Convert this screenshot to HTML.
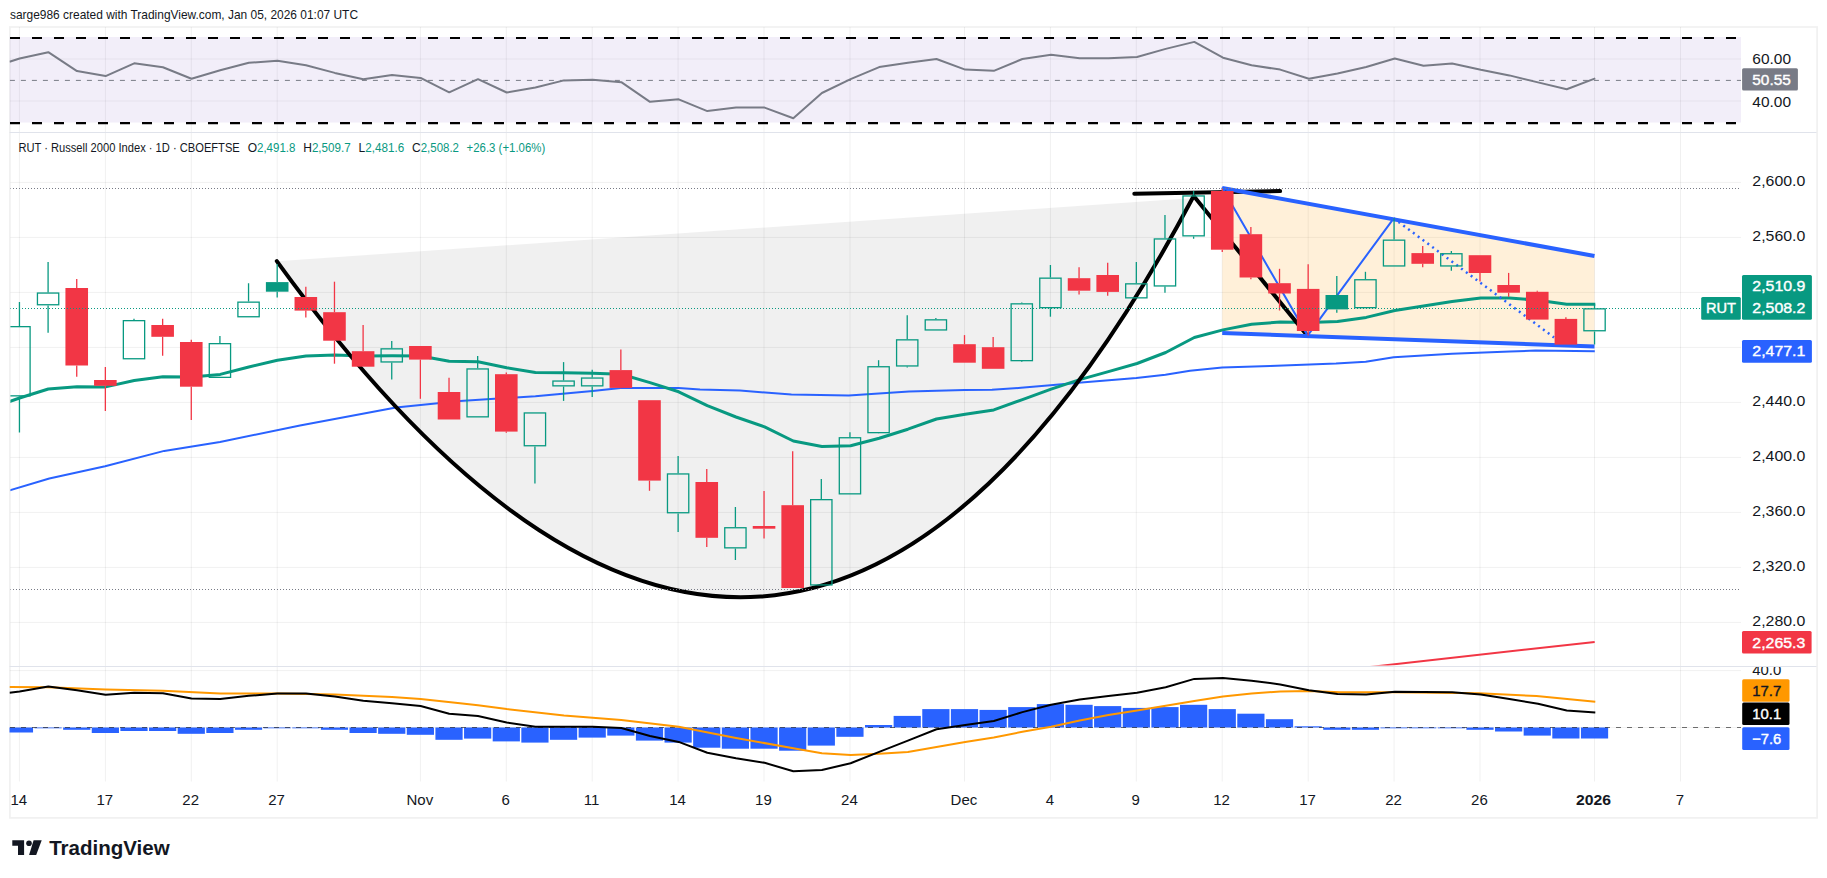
<!DOCTYPE html><html><head><meta charset="utf-8"><style>html,body{margin:0;padding:0;background:#fff;width:1827px;height:878px;overflow:hidden}</style></head><body><svg width="1827" height="878" viewBox="0 0 1827 878" style="display:block">
<rect width="1827" height="878" fill="#ffffff"/>
<defs><clipPath id="cR"><rect x="9.5" y="27" width="1731.5" height="105.5"/></clipPath><clipPath id="cM"><rect x="10.4" y="133.0" width="1731.5" height="532.5"/></clipPath><clipPath id="cD"><rect x="9.5" y="667" width="1731.5" height="115"/></clipPath></defs>
<text x="10" y="19.2" font-family='"Liberation Sans", sans-serif' font-size="13" fill="#131722" textLength="348" lengthAdjust="spacingAndGlyphs">sarge986 created with TradingView.com, Jan 05, 2026 01:07 UTC</text>
<rect x="9.9" y="27.0" width="1807.2" height="790.9" fill="none" stroke="#F1F1F1" stroke-width="1.7"/>
<line x1="19.4" y1="27" x2="19.4" y2="781.5" stroke="rgba(0,0,0,0.06)" stroke-width="1"/>
<line x1="105.4" y1="27" x2="105.4" y2="781.5" stroke="rgba(0,0,0,0.06)" stroke-width="1"/>
<line x1="191.3" y1="27" x2="191.3" y2="781.5" stroke="rgba(0,0,0,0.06)" stroke-width="1"/>
<line x1="277.2" y1="27" x2="277.2" y2="781.5" stroke="rgba(0,0,0,0.06)" stroke-width="1"/>
<line x1="420.4" y1="27" x2="420.4" y2="781.5" stroke="rgba(0,0,0,0.06)" stroke-width="1"/>
<line x1="506.3" y1="27" x2="506.3" y2="781.5" stroke="rgba(0,0,0,0.06)" stroke-width="1"/>
<line x1="592.2" y1="27" x2="592.2" y2="781.5" stroke="rgba(0,0,0,0.06)" stroke-width="1"/>
<line x1="678.1" y1="27" x2="678.1" y2="781.5" stroke="rgba(0,0,0,0.06)" stroke-width="1"/>
<line x1="764.0" y1="27" x2="764.0" y2="781.5" stroke="rgba(0,0,0,0.06)" stroke-width="1"/>
<line x1="850.0" y1="27" x2="850.0" y2="781.5" stroke="rgba(0,0,0,0.06)" stroke-width="1"/>
<line x1="964.5" y1="27" x2="964.5" y2="781.5" stroke="rgba(0,0,0,0.06)" stroke-width="1"/>
<line x1="1050.4" y1="27" x2="1050.4" y2="781.5" stroke="rgba(0,0,0,0.06)" stroke-width="1"/>
<line x1="1136.3" y1="27" x2="1136.3" y2="781.5" stroke="rgba(0,0,0,0.06)" stroke-width="1"/>
<line x1="1222.2" y1="27" x2="1222.2" y2="781.5" stroke="rgba(0,0,0,0.06)" stroke-width="1"/>
<line x1="1308.2" y1="27" x2="1308.2" y2="781.5" stroke="rgba(0,0,0,0.06)" stroke-width="1"/>
<line x1="1394.1" y1="27" x2="1394.1" y2="781.5" stroke="rgba(0,0,0,0.06)" stroke-width="1"/>
<line x1="1480.0" y1="27" x2="1480.0" y2="781.5" stroke="rgba(0,0,0,0.06)" stroke-width="1"/>
<line x1="1594.5" y1="27" x2="1594.5" y2="781.5" stroke="rgba(0,0,0,0.06)" stroke-width="1"/>
<line x1="1680.5" y1="27" x2="1680.5" y2="781.5" stroke="rgba(0,0,0,0.06)" stroke-width="1"/>
<g clip-path="url(#cR)">
<rect x="9.5" y="37.0" width="1731.5" height="85.5" fill="#7E57C2" fill-opacity="0.1"/>
<line x1="9.5" y1="59" x2="1741" y2="59" stroke="#2A2E39" stroke-opacity="0.06" stroke-width="1"/>
<line x1="9.5" y1="101" x2="1741" y2="101" stroke="#2A2E39" stroke-opacity="0.06" stroke-width="1"/>
<line x1="9.9" y1="80.4" x2="1741" y2="80.4" stroke="#787B86" stroke-width="1" stroke-dasharray="5 6"/>
<line x1="10" y1="38.0" x2="1741" y2="38.0" stroke="#000" stroke-width="2.2" stroke-dasharray="10 12"/>
<line x1="10" y1="123.1" x2="1741" y2="123.1" stroke="#000" stroke-width="2.2" stroke-dasharray="10 12"/>
<polyline points="9.5,61.7 19.6,58.5 48.3,52.2 77.0,71.1 105.6,76.1 134.2,63.3 162.9,67.3 191.5,78.7 220.2,70.3 248.8,62.8 277.4,60.8 306.0,65.3 334.8,72.9 363.3,79.2 392.0,74.9 420.6,77.9 449.2,92.3 478.0,79.2 506.7,92.5 535.4,87.5 564.0,80.4 592.7,79.7 621.3,82.2 650.0,101.8 678.7,99.3 707.3,111.1 736.0,107.6 764.6,107.6 793.3,118.2 821.9,93.0 850.6,79.2 879.2,67.1 907.9,62.8 936.5,59.0 965.2,69.6 993.8,70.8 1022.4,59.0 1051.1,54.7 1079.7,58.2 1108.4,58.2 1137.0,57.0 1165.7,48.9 1194.3,41.9 1223.0,57.7 1251.6,65.3 1280.2,69.6 1308.9,78.7 1337.5,73.4 1366.2,67.0 1394.8,58.5 1423.5,65.8 1452.1,63.5 1480.8,69.8 1509.4,75.4 1538.0,82.4 1566.7,89.2 1595.3,78.4" fill="none" stroke="#787B86" stroke-width="2" stroke-linejoin="round"/>
</g>
<line x1="9.5" y1="132.5" x2="1816.5" y2="132.5" stroke="#E0E3EB" stroke-width="1"/>
<line x1="9.5" y1="666.5" x2="1816.5" y2="666.5" stroke="#E0E3EB" stroke-width="1"/>
<g clip-path="url(#cM)">
<line x1="9.5" y1="182.4" x2="1741" y2="182.4" stroke="rgba(0,0,0,0.06)" stroke-width="1"/>
<line x1="9.5" y1="237.4" x2="1741" y2="237.4" stroke="rgba(0,0,0,0.06)" stroke-width="1"/>
<line x1="9.5" y1="292.4" x2="1741" y2="292.4" stroke="rgba(0,0,0,0.06)" stroke-width="1"/>
<line x1="9.5" y1="347.4" x2="1741" y2="347.4" stroke="rgba(0,0,0,0.06)" stroke-width="1"/>
<line x1="9.5" y1="402.4" x2="1741" y2="402.4" stroke="rgba(0,0,0,0.06)" stroke-width="1"/>
<line x1="9.5" y1="457.4" x2="1741" y2="457.4" stroke="rgba(0,0,0,0.06)" stroke-width="1"/>
<line x1="9.5" y1="512.4" x2="1741" y2="512.4" stroke="rgba(0,0,0,0.06)" stroke-width="1"/>
<line x1="9.5" y1="567.4" x2="1741" y2="567.4" stroke="rgba(0,0,0,0.06)" stroke-width="1"/>
<line x1="9.5" y1="622.4" x2="1741" y2="622.4" stroke="rgba(0,0,0,0.06)" stroke-width="1"/>
<path d="M276.8,261.2 Q786.2,964.0 1193.3,196.8 L1193.3,197.9 Z" fill="#000" fill-opacity="0.058"/>
<polygon points="1222.2,188.0 1594.5,256.0 1594.5,346.6 1222.2,332.9" fill="#FF9800" fill-opacity="0.15"/>
<polyline points="1370,667.0 1594.7,641.9" fill="none" stroke="#F23645" stroke-width="2"/>
<polyline points="9.5,490.4 49.3,478.5 105.1,466.2 164.2,450.9 220.0,442.0 300.0,425.5 396.0,407.4 460.0,400.9 535.4,396.3 592.6,391.0 620.6,387.9 678.7,387.9 700.0,389.5 740.0,390.6 791.4,394.5 848.7,395.5 909.0,391.6 964.6,390.0 992.0,389.8 1021.0,387.8 1050.5,385.2 1081.4,382.5 1136.3,378.0 1165.4,374.7 1190.0,370.7 1222.2,367.5 1270.0,365.9 1336.0,363.6 1365.7,361.8 1393.7,357.2 1452.0,353.8 1510.0,351.5 1535.6,350.6 1594.8,351.2" fill="none" stroke="#2962FF" stroke-width="2" stroke-linejoin="round"/>
<polyline points="9.5,401.5 19.6,398.0 48.3,389.0 77.0,386.7 105.6,386.9 134.2,380.5 162.9,376.7 191.5,377.0 220.2,374.4 248.8,367.0 277.4,360.3 306.0,356.0 334.8,355.0 363.3,356.0 392.0,355.7 420.6,356.0 449.2,361.2 478.0,361.7 506.7,367.8 535.4,372.4 564.0,372.8 592.7,373.3 621.3,374.2 650.0,382.6 678.7,391.8 707.3,405.7 736.0,417.0 764.6,426.9 793.3,441.0 821.9,446.5 850.6,445.8 879.2,438.3 907.9,429.2 936.5,419.0 965.2,414.2 993.8,409.9 1022.4,399.6 1051.1,389.1 1079.7,379.6 1108.4,371.6 1137.0,363.5 1165.7,352.5 1194.3,337.5 1223.0,329.9 1251.6,324.2 1280.2,322.0 1308.9,322.6 1337.5,321.5 1366.2,317.4 1394.8,310.5 1423.5,306.0 1452.1,301.4 1480.8,298.0 1509.4,298.0 1538.0,300.2 1566.7,304.3 1595.3,304.3" fill="none" stroke="#089981" stroke-width="3" stroke-linejoin="round"/>
<path d="M276.8,261.2 Q786.2,964.0 1193.3,196.8" fill="none" stroke="#000" stroke-width="4" stroke-linecap="round"/>
<line x1="1134.3" y1="193.8" x2="1280.1" y2="191.1" stroke="#000" stroke-width="4" stroke-linecap="round"/>
<line x1="1193.9" y1="196.3" x2="1306" y2="334" stroke="#000" stroke-width="4" stroke-linecap="round"/>
<line x1="1222.2" y1="188.0" x2="1594.5" y2="256.0" stroke="#2962FF" stroke-width="4"/>
<line x1="1222.2" y1="332.9" x2="1594.5" y2="346.6" stroke="#2962FF" stroke-width="4"/>
<polyline points="1222,187.5 1307.6,335.6 1393.7,218.3" fill="none" stroke="#2962FF" stroke-width="2"/>
<line x1="1393.7" y1="218.3" x2="1554" y2="337.4" stroke="#2962FF" stroke-width="2.5" stroke-dasharray="2 4"/>
<line x1="19.45" y1="302" x2="19.45" y2="326" stroke="#089981" stroke-width="1.3"/>
<line x1="19.45" y1="396.5" x2="19.45" y2="432.5" stroke="#089981" stroke-width="1.3"/>
<rect x="8.80" y="326.65" width="21.30" height="69.2" fill="none" stroke="#089981" stroke-width="1.3"/>
<line x1="48.09" y1="262" x2="48.09" y2="292.4" stroke="#089981" stroke-width="1.3"/>
<line x1="48.09" y1="305.4" x2="48.09" y2="332.7" stroke="#089981" stroke-width="1.3"/>
<rect x="37.44" y="293.05" width="21.30" height="11.7" fill="none" stroke="#089981" stroke-width="1.3"/>
<line x1="76.73" y1="279" x2="76.73" y2="288" stroke="#F23645" stroke-width="1.3"/>
<line x1="76.73" y1="365.5" x2="76.73" y2="376.7" stroke="#F23645" stroke-width="1.3"/>
<rect x="65.43" y="288" width="22.60" height="77.5" fill="#F23645"/>
<line x1="105.36" y1="367" x2="105.36" y2="380" stroke="#F23645" stroke-width="1.3"/>
<line x1="105.36" y1="385.8" x2="105.36" y2="411" stroke="#F23645" stroke-width="1.3"/>
<rect x="94.06" y="380" width="22.60" height="5.8" fill="#F23645"/>
<line x1="134.00" y1="318.8" x2="134.00" y2="320" stroke="#089981" stroke-width="1.3"/>
<rect x="123.35" y="320.65" width="21.30" height="38.1" fill="none" stroke="#089981" stroke-width="1.3"/>
<line x1="162.64" y1="318.8" x2="162.64" y2="325" stroke="#F23645" stroke-width="1.3"/>
<line x1="162.64" y1="336.8" x2="162.64" y2="355.7" stroke="#F23645" stroke-width="1.3"/>
<rect x="151.34" y="325" width="22.60" height="11.8" fill="#F23645"/>
<line x1="191.28" y1="339.8" x2="191.28" y2="342" stroke="#F23645" stroke-width="1.3"/>
<line x1="191.28" y1="386.7" x2="191.28" y2="420" stroke="#F23645" stroke-width="1.3"/>
<rect x="179.98" y="342" width="22.60" height="44.7" fill="#F23645"/>
<line x1="219.92" y1="336" x2="219.92" y2="343" stroke="#089981" stroke-width="1.3"/>
<rect x="209.27" y="343.65" width="21.30" height="33.7" fill="none" stroke="#089981" stroke-width="1.3"/>
<line x1="248.55" y1="283.3" x2="248.55" y2="301.5" stroke="#089981" stroke-width="1.3"/>
<rect x="237.90" y="302.15" width="21.30" height="14.6" fill="none" stroke="#089981" stroke-width="1.3"/>
<line x1="277.19" y1="264" x2="277.19" y2="282.1" stroke="#089981" stroke-width="1.3"/>
<line x1="277.19" y1="291.7" x2="277.19" y2="297.4" stroke="#089981" stroke-width="1.3"/>
<rect x="265.89" y="282.1" width="22.60" height="9.6" fill="#089981"/>
<line x1="305.83" y1="286.7" x2="305.83" y2="297" stroke="#F23645" stroke-width="1.3"/>
<line x1="305.83" y1="310.6" x2="305.83" y2="317.4" stroke="#F23645" stroke-width="1.3"/>
<rect x="294.53" y="297" width="22.60" height="13.6" fill="#F23645"/>
<line x1="334.47" y1="281.7" x2="334.47" y2="312.2" stroke="#F23645" stroke-width="1.3"/>
<line x1="334.47" y1="340.7" x2="334.47" y2="363.7" stroke="#F23645" stroke-width="1.3"/>
<rect x="323.17" y="312.2" width="22.60" height="28.5" fill="#F23645"/>
<line x1="363.11" y1="325" x2="363.11" y2="351.2" stroke="#F23645" stroke-width="1.3"/>
<rect x="351.81" y="351.2" width="22.60" height="15.5" fill="#F23645"/>
<line x1="391.74" y1="341" x2="391.74" y2="348.2" stroke="#089981" stroke-width="1.3"/>
<line x1="391.74" y1="362.6" x2="391.74" y2="379.6" stroke="#089981" stroke-width="1.3"/>
<rect x="381.09" y="348.85" width="21.30" height="13.1" fill="none" stroke="#089981" stroke-width="1.3"/>
<line x1="420.38" y1="359.6" x2="420.38" y2="398.8" stroke="#F23645" stroke-width="1.3"/>
<rect x="409.08" y="346" width="22.60" height="13.6" fill="#F23645"/>
<line x1="449.02" y1="377.8" x2="449.02" y2="392" stroke="#F23645" stroke-width="1.3"/>
<rect x="437.72" y="392" width="22.60" height="27.5" fill="#F23645"/>
<line x1="477.66" y1="356" x2="477.66" y2="368.3" stroke="#089981" stroke-width="1.3"/>
<rect x="467.01" y="368.95" width="21.30" height="47.9" fill="none" stroke="#089981" stroke-width="1.3"/>
<line x1="506.30" y1="372.4" x2="506.30" y2="374.2" stroke="#F23645" stroke-width="1.3"/>
<line x1="506.30" y1="431.6" x2="506.30" y2="432.8" stroke="#F23645" stroke-width="1.3"/>
<rect x="495.00" y="374.2" width="22.60" height="57.4" fill="#F23645"/>
<line x1="534.93" y1="446.4" x2="534.93" y2="483.5" stroke="#089981" stroke-width="1.3"/>
<rect x="524.28" y="412.95" width="21.30" height="32.8" fill="none" stroke="#089981" stroke-width="1.3"/>
<line x1="563.57" y1="362.1" x2="563.57" y2="380.4" stroke="#089981" stroke-width="1.3"/>
<line x1="563.57" y1="386.5" x2="563.57" y2="400.9" stroke="#089981" stroke-width="1.3"/>
<rect x="552.92" y="381.05" width="21.30" height="4.8" fill="none" stroke="#089981" stroke-width="1.3"/>
<line x1="592.21" y1="369.7" x2="592.21" y2="377.4" stroke="#089981" stroke-width="1.3"/>
<line x1="592.21" y1="386.5" x2="592.21" y2="397" stroke="#089981" stroke-width="1.3"/>
<rect x="581.56" y="378.05" width="21.30" height="7.8" fill="none" stroke="#089981" stroke-width="1.3"/>
<line x1="620.85" y1="349.6" x2="620.85" y2="370.1" stroke="#F23645" stroke-width="1.3"/>
<line x1="620.85" y1="387.9" x2="620.85" y2="388.3" stroke="#F23645" stroke-width="1.3"/>
<rect x="609.55" y="370.1" width="22.60" height="17.8" fill="#F23645"/>
<line x1="649.49" y1="480.6" x2="649.49" y2="490.8" stroke="#F23645" stroke-width="1.3"/>
<rect x="638.19" y="400.2" width="22.60" height="80.4" fill="#F23645"/>
<line x1="678.12" y1="456" x2="678.12" y2="473.3" stroke="#089981" stroke-width="1.3"/>
<line x1="678.12" y1="513.4" x2="678.12" y2="532" stroke="#089981" stroke-width="1.3"/>
<rect x="667.47" y="473.95" width="21.30" height="38.8" fill="none" stroke="#089981" stroke-width="1.3"/>
<line x1="706.76" y1="469" x2="706.76" y2="482" stroke="#F23645" stroke-width="1.3"/>
<line x1="706.76" y1="537.8" x2="706.76" y2="547" stroke="#F23645" stroke-width="1.3"/>
<rect x="695.46" y="482" width="22.60" height="55.8" fill="#F23645"/>
<line x1="735.40" y1="507" x2="735.40" y2="527.1" stroke="#089981" stroke-width="1.3"/>
<line x1="735.40" y1="548.5" x2="735.40" y2="560" stroke="#089981" stroke-width="1.3"/>
<rect x="724.75" y="527.75" width="21.30" height="20.1" fill="none" stroke="#089981" stroke-width="1.3"/>
<line x1="764.04" y1="491" x2="764.04" y2="526" stroke="#F23645" stroke-width="1.3"/>
<line x1="764.04" y1="528.7" x2="764.04" y2="538.5" stroke="#F23645" stroke-width="1.3"/>
<rect x="752.74" y="526" width="22.60" height="2.7" fill="#F23645"/>
<line x1="792.68" y1="451.3" x2="792.68" y2="505.2" stroke="#F23645" stroke-width="1.3"/>
<rect x="781.38" y="505.2" width="22.60" height="82.8" fill="#F23645"/>
<line x1="821.31" y1="479" x2="821.31" y2="499" stroke="#089981" stroke-width="1.3"/>
<rect x="810.66" y="499.65" width="21.30" height="85.3" fill="none" stroke="#089981" stroke-width="1.3"/>
<line x1="849.95" y1="432.3" x2="849.95" y2="437.1" stroke="#089981" stroke-width="1.3"/>
<rect x="839.30" y="437.75" width="21.30" height="56.1" fill="none" stroke="#089981" stroke-width="1.3"/>
<line x1="878.59" y1="360.2" x2="878.59" y2="366.1" stroke="#089981" stroke-width="1.3"/>
<line x1="878.59" y1="433.3" x2="878.59" y2="433.5" stroke="#089981" stroke-width="1.3"/>
<rect x="867.94" y="366.75" width="21.30" height="65.9" fill="none" stroke="#089981" stroke-width="1.3"/>
<line x1="907.23" y1="315.3" x2="907.23" y2="339.2" stroke="#089981" stroke-width="1.3"/>
<line x1="907.23" y1="366.6" x2="907.23" y2="367.5" stroke="#089981" stroke-width="1.3"/>
<rect x="896.58" y="339.85" width="21.30" height="26.1" fill="none" stroke="#089981" stroke-width="1.3"/>
<line x1="935.87" y1="318" x2="935.87" y2="319.2" stroke="#089981" stroke-width="1.3"/>
<rect x="925.22" y="319.85" width="21.30" height="10.1" fill="none" stroke="#089981" stroke-width="1.3"/>
<line x1="964.50" y1="335.1" x2="964.50" y2="344.2" stroke="#F23645" stroke-width="1.3"/>
<rect x="953.20" y="344.2" width="22.60" height="18.5" fill="#F23645"/>
<line x1="993.14" y1="337" x2="993.14" y2="347.2" stroke="#F23645" stroke-width="1.3"/>
<rect x="981.84" y="347.2" width="22.60" height="21.6" fill="#F23645"/>
<line x1="1021.78" y1="302.5" x2="1021.78" y2="303.2" stroke="#089981" stroke-width="1.3"/>
<line x1="1021.78" y1="361.3" x2="1021.78" y2="362" stroke="#089981" stroke-width="1.3"/>
<rect x="1011.13" y="303.85" width="21.30" height="56.8" fill="none" stroke="#089981" stroke-width="1.3"/>
<line x1="1050.42" y1="265" x2="1050.42" y2="277.5" stroke="#089981" stroke-width="1.3"/>
<line x1="1050.42" y1="308.3" x2="1050.42" y2="316.7" stroke="#089981" stroke-width="1.3"/>
<rect x="1039.77" y="278.15" width="21.30" height="29.5" fill="none" stroke="#089981" stroke-width="1.3"/>
<line x1="1079.06" y1="267.3" x2="1079.06" y2="278.2" stroke="#F23645" stroke-width="1.3"/>
<line x1="1079.06" y1="290.7" x2="1079.06" y2="294.6" stroke="#F23645" stroke-width="1.3"/>
<rect x="1067.76" y="278.2" width="22.60" height="12.5" fill="#F23645"/>
<line x1="1107.69" y1="262.7" x2="1107.69" y2="275" stroke="#F23645" stroke-width="1.3"/>
<line x1="1107.69" y1="291.9" x2="1107.69" y2="295.7" stroke="#F23645" stroke-width="1.3"/>
<rect x="1096.39" y="275" width="22.60" height="16.9" fill="#F23645"/>
<line x1="1136.33" y1="262" x2="1136.33" y2="283.2" stroke="#089981" stroke-width="1.3"/>
<rect x="1125.68" y="283.85" width="21.30" height="14.0" fill="none" stroke="#089981" stroke-width="1.3"/>
<line x1="1164.97" y1="214.9" x2="1164.97" y2="238.3" stroke="#089981" stroke-width="1.3"/>
<line x1="1164.97" y1="286.6" x2="1164.97" y2="292.8" stroke="#089981" stroke-width="1.3"/>
<rect x="1154.32" y="238.95" width="21.30" height="47.0" fill="none" stroke="#089981" stroke-width="1.3"/>
<line x1="1193.61" y1="191" x2="1193.61" y2="195.3" stroke="#089981" stroke-width="1.3"/>
<line x1="1193.61" y1="236.5" x2="1193.61" y2="238.8" stroke="#089981" stroke-width="1.3"/>
<rect x="1182.96" y="195.95" width="21.30" height="39.9" fill="none" stroke="#089981" stroke-width="1.3"/>
<line x1="1222.25" y1="188.5" x2="1222.25" y2="191" stroke="#F23645" stroke-width="1.3"/>
<line x1="1222.25" y1="249.7" x2="1222.25" y2="252" stroke="#F23645" stroke-width="1.3"/>
<rect x="1210.95" y="191" width="22.60" height="58.7" fill="#F23645"/>
<line x1="1250.88" y1="227" x2="1250.88" y2="234.2" stroke="#F23645" stroke-width="1.3"/>
<line x1="1250.88" y1="277.5" x2="1250.88" y2="279.3" stroke="#F23645" stroke-width="1.3"/>
<rect x="1239.58" y="234.2" width="22.60" height="43.3" fill="#F23645"/>
<line x1="1279.52" y1="268.8" x2="1279.52" y2="283.2" stroke="#F23645" stroke-width="1.3"/>
<line x1="1279.52" y1="293.5" x2="1279.52" y2="310.5" stroke="#F23645" stroke-width="1.3"/>
<rect x="1268.22" y="283.2" width="22.60" height="10.3" fill="#F23645"/>
<line x1="1308.16" y1="264.3" x2="1308.16" y2="288.9" stroke="#F23645" stroke-width="1.3"/>
<line x1="1308.16" y1="331" x2="1308.16" y2="335.6" stroke="#F23645" stroke-width="1.3"/>
<rect x="1296.86" y="288.9" width="22.60" height="42.1" fill="#F23645"/>
<line x1="1336.80" y1="276" x2="1336.80" y2="295" stroke="#089981" stroke-width="1.3"/>
<line x1="1336.80" y1="309.4" x2="1336.80" y2="312.8" stroke="#089981" stroke-width="1.3"/>
<rect x="1325.50" y="295" width="22.60" height="14.4" fill="#089981"/>
<line x1="1365.44" y1="271.8" x2="1365.44" y2="279.1" stroke="#089981" stroke-width="1.3"/>
<rect x="1354.79" y="279.75" width="21.30" height="27.9" fill="none" stroke="#089981" stroke-width="1.3"/>
<line x1="1394.07" y1="218.3" x2="1394.07" y2="239.5" stroke="#089981" stroke-width="1.3"/>
<rect x="1383.42" y="240.15" width="21.30" height="25.8" fill="none" stroke="#089981" stroke-width="1.3"/>
<line x1="1422.71" y1="246" x2="1422.71" y2="253.1" stroke="#F23645" stroke-width="1.3"/>
<line x1="1422.71" y1="263.8" x2="1422.71" y2="267.3" stroke="#F23645" stroke-width="1.3"/>
<rect x="1411.41" y="253.1" width="22.60" height="10.7" fill="#F23645"/>
<line x1="1451.35" y1="250.9" x2="1451.35" y2="253.1" stroke="#089981" stroke-width="1.3"/>
<line x1="1451.35" y1="266.6" x2="1451.35" y2="270.7" stroke="#089981" stroke-width="1.3"/>
<rect x="1440.70" y="253.75" width="21.30" height="12.2" fill="none" stroke="#089981" stroke-width="1.3"/>
<line x1="1479.99" y1="273" x2="1479.99" y2="281.6" stroke="#F23645" stroke-width="1.3"/>
<rect x="1468.69" y="255.2" width="22.60" height="17.8" fill="#F23645"/>
<line x1="1508.63" y1="272.9" x2="1508.63" y2="285" stroke="#F23645" stroke-width="1.3"/>
<line x1="1508.63" y1="292.7" x2="1508.63" y2="296.8" stroke="#F23645" stroke-width="1.3"/>
<rect x="1497.33" y="285" width="22.60" height="7.7" fill="#F23645"/>
<line x1="1537.26" y1="290.7" x2="1537.26" y2="291.8" stroke="#F23645" stroke-width="1.3"/>
<rect x="1525.96" y="291.8" width="22.60" height="27.8" fill="#F23645"/>
<line x1="1565.90" y1="317.3" x2="1565.90" y2="318.9" stroke="#F23645" stroke-width="1.3"/>
<rect x="1554.60" y="318.9" width="22.60" height="25.7" fill="#F23645"/>
<line x1="1594.54" y1="304.3" x2="1594.54" y2="308.2" stroke="#089981" stroke-width="1.3"/>
<line x1="1594.54" y1="331.4" x2="1594.54" y2="344.6" stroke="#089981" stroke-width="1.3"/>
<rect x="1583.89" y="308.85" width="21.30" height="21.9" fill="none" stroke="#089981" stroke-width="1.3"/>
<line x1="10" y1="188.5" x2="1741" y2="188.5" stroke="#787B86" stroke-width="1" stroke-dasharray="1 2"/>
<line x1="10" y1="589.5" x2="1741" y2="589.5" stroke="#787B86" stroke-width="1" stroke-dasharray="1 2"/>
<line x1="10" y1="308.5" x2="1701" y2="308.5" stroke="#089981" stroke-width="1" stroke-dasharray="1 2"/>
</g>
<text x="18.4" y="151.9" font-family='"Liberation Sans", sans-serif' font-size="12" fill="#131722" text-anchor="start" font-weight="normal" textLength="221.4" lengthAdjust="spacingAndGlyphs">RUT · Russell 2000 Index · 1D · CBOEFTSE</text>
<text x="247.7" y="151.9" font-family='"Liberation Sans", sans-serif' font-size="12" fill="#131722" text-anchor="start" font-weight="normal">O</text>
<text x="257.0" y="151.9" font-family='"Liberation Sans", sans-serif' font-size="12" fill="#089981" text-anchor="start" font-weight="normal" textLength="38.4" lengthAdjust="spacingAndGlyphs">2,491.8</text>
<text x="303.2" y="151.9" font-family='"Liberation Sans", sans-serif' font-size="12" fill="#131722" text-anchor="start" font-weight="normal">H</text>
<text x="311.9" y="151.9" font-family='"Liberation Sans", sans-serif' font-size="12" fill="#089981" text-anchor="start" font-weight="normal" textLength="38.8" lengthAdjust="spacingAndGlyphs">2,509.7</text>
<text x="358.6" y="151.9" font-family='"Liberation Sans", sans-serif' font-size="12" fill="#131722" text-anchor="start" font-weight="normal">L</text>
<text x="365.3" y="151.9" font-family='"Liberation Sans", sans-serif' font-size="12" fill="#089981" text-anchor="start" font-weight="normal" textLength="39.0" lengthAdjust="spacingAndGlyphs">2,481.6</text>
<text x="412" y="151.9" font-family='"Liberation Sans", sans-serif' font-size="12" fill="#131722" text-anchor="start" font-weight="normal">C</text>
<text x="420.7" y="151.9" font-family='"Liberation Sans", sans-serif' font-size="12" fill="#089981" text-anchor="start" font-weight="normal" textLength="38.3" lengthAdjust="spacingAndGlyphs">2,508.2</text>
<text x="466.6" y="151.9" font-family='"Liberation Sans", sans-serif' font-size="12" fill="#089981" text-anchor="start" font-weight="normal" textLength="78.6" lengthAdjust="spacingAndGlyphs">+26.3 (+1.06%)</text>
<text x="1752.3" y="186" font-family='"Liberation Sans", sans-serif' font-size="15" fill="#131722" text-anchor="start" font-weight="normal" textLength="53" lengthAdjust="spacingAndGlyphs">2,600.0</text>
<text x="1752.3" y="241" font-family='"Liberation Sans", sans-serif' font-size="15" fill="#131722" text-anchor="start" font-weight="normal" textLength="53" lengthAdjust="spacingAndGlyphs">2,560.0</text>
<text x="1752.3" y="406" font-family='"Liberation Sans", sans-serif' font-size="15" fill="#131722" text-anchor="start" font-weight="normal" textLength="53" lengthAdjust="spacingAndGlyphs">2,440.0</text>
<text x="1752.3" y="461" font-family='"Liberation Sans", sans-serif' font-size="15" fill="#131722" text-anchor="start" font-weight="normal" textLength="53" lengthAdjust="spacingAndGlyphs">2,400.0</text>
<text x="1752.3" y="516" font-family='"Liberation Sans", sans-serif' font-size="15" fill="#131722" text-anchor="start" font-weight="normal" textLength="53" lengthAdjust="spacingAndGlyphs">2,360.0</text>
<text x="1752.3" y="571" font-family='"Liberation Sans", sans-serif' font-size="15" fill="#131722" text-anchor="start" font-weight="normal" textLength="53" lengthAdjust="spacingAndGlyphs">2,320.0</text>
<text x="1752.3" y="626" font-family='"Liberation Sans", sans-serif' font-size="15" fill="#131722" text-anchor="start" font-weight="normal" textLength="53" lengthAdjust="spacingAndGlyphs">2,280.0</text>
<rect x="1742" y="275.1" width="69.9" height="44.7" rx="1.5" fill="#089981"/>
<text x="1752.3" y="291.1" font-family='"Liberation Sans", sans-serif' font-size="15" fill="#fff" text-anchor="start" font-weight="normal" textLength="53" lengthAdjust="spacingAndGlyphs" stroke="#fff" stroke-width="0.4">2,510.9</text>
<text x="1752.3" y="313" font-family='"Liberation Sans", sans-serif' font-size="15" fill="#fff" text-anchor="start" font-weight="normal" textLength="53" lengthAdjust="spacingAndGlyphs" stroke="#fff" stroke-width="0.4">2,508.2</text>
<rect x="1701.2" y="297.1" width="39.6" height="22.7" rx="1.5" fill="#089981"/>
<text x="1706" y="313" font-family='"Liberation Sans", sans-serif' font-size="15" fill="#fff" text-anchor="start" font-weight="normal" textLength="30" lengthAdjust="spacingAndGlyphs" stroke="#fff" stroke-width="0.4">RUT</text>
<rect x="1742" y="340" width="69.90000000000009" height="22.80000000000001" rx="1.5" fill="#2962FF"/>
<text x="1752.3" y="355.6" font-family='"Liberation Sans", sans-serif' font-size="15" fill="#fff" text-anchor="start" font-weight="normal" textLength="53" lengthAdjust="spacingAndGlyphs" stroke="#fff" stroke-width="0.4">2,477.1</text>
<rect x="1742" y="631" width="69.59999999999991" height="22.600000000000023" rx="1.5" fill="#F23645"/>
<text x="1752.3" y="647.5" font-family='"Liberation Sans", sans-serif' font-size="15" fill="#fff" text-anchor="start" font-weight="normal" textLength="53" lengthAdjust="spacingAndGlyphs" stroke="#fff" stroke-width="0.4">2,265.3</text>
<text x="1752.3" y="63.9" font-family='"Liberation Sans", sans-serif' font-size="15" fill="#131722" text-anchor="start" font-weight="normal" textLength="38.7" lengthAdjust="spacingAndGlyphs">60.00</text>
<rect x="1742.1" y="68.2" width="55.80000000000018" height="22.299999999999997" rx="1.5" fill="#787B86"/>
<text x="1752.3" y="84.8" font-family='"Liberation Sans", sans-serif' font-size="15" fill="#fff" text-anchor="start" font-weight="normal" textLength="38.5" lengthAdjust="spacingAndGlyphs" stroke="#fff" stroke-width="0.4">50.55</text>
<text x="1752.3" y="106.5" font-family='"Liberation Sans", sans-serif' font-size="15" fill="#131722" text-anchor="start" font-weight="normal" textLength="38.7" lengthAdjust="spacingAndGlyphs">40.00</text>
<g clip-path="url(#cD)">
<line x1="9.5" y1="670.6" x2="1741" y2="670.6" stroke="rgba(0,0,0,0.06)" stroke-width="1"/>
<rect x="5.85" y="727.5" width="27.2" height="5.0" fill="#2962FF"/>
<rect x="34.49" y="727.5" width="27.2" height="0.8" fill="#2962FF"/>
<rect x="63.13" y="727.5" width="27.2" height="2.3" fill="#2962FF"/>
<rect x="91.76" y="727.5" width="27.2" height="5.5" fill="#2962FF"/>
<rect x="120.40" y="727.5" width="27.2" height="3.5" fill="#2962FF"/>
<rect x="149.04" y="727.5" width="27.2" height="3.5" fill="#2962FF"/>
<rect x="177.68" y="727.5" width="27.2" height="6.3" fill="#2962FF"/>
<rect x="206.32" y="727.5" width="27.2" height="5.5" fill="#2962FF"/>
<rect x="234.95" y="727.5" width="27.2" height="2.3" fill="#2962FF"/>
<rect x="263.59" y="727.5" width="27.2" height="0.8" fill="#2962FF"/>
<rect x="292.23" y="727.5" width="27.2" height="0.8" fill="#2962FF"/>
<rect x="320.87" y="727.5" width="27.2" height="2.3" fill="#2962FF"/>
<rect x="349.51" y="727.5" width="27.2" height="5.5" fill="#2962FF"/>
<rect x="378.14" y="727.5" width="27.2" height="6.3" fill="#2962FF"/>
<rect x="406.78" y="727.5" width="27.2" height="7.3" fill="#2962FF"/>
<rect x="435.42" y="727.5" width="27.2" height="12.3" fill="#2962FF"/>
<rect x="464.06" y="727.5" width="27.2" height="11.1" fill="#2962FF"/>
<rect x="492.70" y="727.5" width="27.2" height="13.9" fill="#2962FF"/>
<rect x="521.33" y="727.5" width="27.2" height="15.1" fill="#2962FF"/>
<rect x="549.97" y="727.5" width="27.2" height="12.3" fill="#2962FF"/>
<rect x="578.61" y="727.5" width="27.2" height="10.1" fill="#2962FF"/>
<rect x="607.25" y="727.5" width="27.2" height="8.1" fill="#2962FF"/>
<rect x="635.89" y="727.5" width="27.2" height="13.1" fill="#2962FF"/>
<rect x="664.52" y="727.5" width="27.2" height="15.1" fill="#2962FF"/>
<rect x="693.16" y="727.5" width="27.2" height="20.2" fill="#2962FF"/>
<rect x="721.80" y="727.5" width="27.2" height="21.2" fill="#2962FF"/>
<rect x="750.44" y="727.5" width="27.2" height="21.2" fill="#2962FF"/>
<rect x="779.08" y="727.5" width="27.2" height="23.2" fill="#2962FF"/>
<rect x="807.71" y="727.5" width="27.2" height="18.1" fill="#2962FF"/>
<rect x="836.35" y="727.5" width="27.2" height="9.3" fill="#2962FF"/>
<rect x="864.99" y="725.0" width="27.2" height="2.5" fill="#2962FF"/>
<rect x="893.63" y="715.9" width="27.2" height="11.6" fill="#2962FF"/>
<rect x="922.27" y="709.1" width="27.2" height="18.4" fill="#2962FF"/>
<rect x="950.90" y="709.1" width="27.2" height="18.4" fill="#2962FF"/>
<rect x="979.54" y="709.9" width="27.2" height="17.6" fill="#2962FF"/>
<rect x="1008.18" y="707.1" width="27.2" height="20.4" fill="#2962FF"/>
<rect x="1036.82" y="704.1" width="27.2" height="23.4" fill="#2962FF"/>
<rect x="1065.46" y="704.8" width="27.2" height="22.7" fill="#2962FF"/>
<rect x="1094.09" y="706.1" width="27.2" height="21.4" fill="#2962FF"/>
<rect x="1122.73" y="707.9" width="27.2" height="19.6" fill="#2962FF"/>
<rect x="1151.37" y="707.1" width="27.2" height="20.4" fill="#2962FF"/>
<rect x="1180.01" y="704.8" width="27.2" height="22.7" fill="#2962FF"/>
<rect x="1208.65" y="709.1" width="27.2" height="18.4" fill="#2962FF"/>
<rect x="1237.28" y="713.7" width="27.2" height="13.8" fill="#2962FF"/>
<rect x="1265.92" y="719.2" width="27.2" height="8.3" fill="#2962FF"/>
<rect x="1294.56" y="726.3" width="27.2" height="1.2" fill="#2962FF"/>
<rect x="1323.20" y="727.5" width="27.2" height="2.3" fill="#2962FF"/>
<rect x="1351.84" y="727.5" width="27.2" height="2.3" fill="#2962FF"/>
<rect x="1380.47" y="727.5" width="27.2" height="0.8" fill="#2962FF"/>
<rect x="1409.11" y="727.5" width="27.2" height="0.8" fill="#2962FF"/>
<rect x="1437.75" y="727.5" width="27.2" height="0.8" fill="#2962FF"/>
<rect x="1466.39" y="727.5" width="27.2" height="2.3" fill="#2962FF"/>
<rect x="1495.03" y="727.5" width="27.2" height="4.0" fill="#2962FF"/>
<rect x="1523.66" y="727.5" width="27.2" height="8.1" fill="#2962FF"/>
<rect x="1552.30" y="727.5" width="27.2" height="11.0" fill="#2962FF"/>
<rect x="1580.94" y="727.5" width="27.2" height="11.0" fill="#2962FF"/>
<line x1="9.5" y1="727.5" x2="1741" y2="727.5" stroke="#000" stroke-opacity="0.05" stroke-width="1"/>
<line x1="10" y1="727.5" x2="1741" y2="727.5" stroke="#000" stroke-opacity="0.55" stroke-width="1" stroke-dasharray="5 6"/>
<polyline points="9.5,687.0 48.3,687.2 105.6,689.5 162.9,690.7 220.2,693.5 277.4,693.5 334.8,694.5 392.0,697.0 420.6,699.0 460.0,703.3 478.0,705.3 506.7,709.1 564.0,715.4 621.3,720.0 678.7,726.8 736.0,738.0 793.3,748.2 821.9,753.2 850.6,755.0 879.2,753.7 907.9,752.0 936.5,746.9 965.2,741.9 993.8,737.6 1022.4,731.8 1051.1,726.8 1079.7,720.5 1108.4,714.9 1137.0,710.4 1165.7,705.8 1194.3,701.1 1223.0,696.5 1251.6,693.5 1280.2,691.5 1308.9,691.0 1340.0,692.2 1392.3,692.3 1478.8,693.2 1536.5,696.0 1595.3,701.8" fill="none" stroke="#FF9800" stroke-width="2" stroke-linejoin="round"/>
<polyline points="9.5,692.8 19.6,691.5 48.3,686.4 77.0,690.2 105.6,694.8 134.2,692.7 162.9,693.2 191.5,698.5 220.2,699.0 248.8,695.8 277.4,693.5 306.0,693.5 334.8,696.5 363.3,700.8 392.0,703.3 420.6,706.0 449.2,713.7 478.0,716.0 506.7,722.5 535.4,726.8 564.0,726.8 592.7,726.8 621.3,728.0 650.0,736.0 678.7,741.9 707.3,752.7 736.0,758.2 764.6,762.8 793.3,771.3 821.9,770.0 850.6,763.3 879.2,751.9 907.9,740.6 936.5,729.3 965.2,725.0 993.8,721.0 1022.4,712.1 1051.1,704.8 1079.7,699.5 1108.4,696.0 1137.0,692.7 1165.7,687.2 1194.3,678.9 1223.0,678.1 1251.6,680.7 1280.2,684.4 1308.9,690.2 1337.5,694.0 1366.2,694.6 1394.8,691.7 1423.5,692.0 1452.1,692.3 1480.8,694.6 1509.4,699.0 1538.0,703.8 1566.7,710.5 1595.3,712.5" fill="none" stroke="#000" stroke-width="2" stroke-linejoin="round"/>
</g>
<g clip-path="url(#cMA)">
<text x="1752.3" y="674.8" font-family='"Liberation Sans", sans-serif' font-size="15" fill="#131722" text-anchor="start" font-weight="normal" textLength="29" lengthAdjust="spacingAndGlyphs">40.0</text>
</g>
<defs><clipPath id="cMA"><rect x="1741" y="667" width="76" height="20"/></clipPath></defs>
<rect x="1742.2" y="679.3" width="47.299999999999955" height="22.5" rx="1.5" fill="#FF9800"/>
<text x="1752.3" y="695.5" font-family='"Liberation Sans", sans-serif' font-size="15" fill="#131722" text-anchor="start" font-weight="normal" textLength="29" lengthAdjust="spacingAndGlyphs" stroke="#131722" stroke-width="0.4">17.7</text>
<rect x="1742.2" y="702.4" width="47.299999999999955" height="22.5" rx="1.5" fill="#000000"/>
<text x="1752.3" y="718.6" font-family='"Liberation Sans", sans-serif' font-size="15" fill="#fff" text-anchor="start" font-weight="normal" textLength="29" lengthAdjust="spacingAndGlyphs" stroke="#fff" stroke-width="0.4">10.1</text>
<rect x="1742.2" y="727.2" width="47.299999999999955" height="22.799999999999955" rx="1.5" fill="#2962FF"/>
<text x="1752.3" y="744" font-family='"Liberation Sans", sans-serif' font-size="15" fill="#fff" text-anchor="start" font-weight="normal" textLength="29" lengthAdjust="spacingAndGlyphs" stroke="#fff" stroke-width="0.4">−7.6</text>
<text x="18.8" y="805.2" font-family='"Liberation Sans", sans-serif' font-size="15" fill="#131722" text-anchor="middle" font-weight="normal">14</text>
<text x="104.8" y="805.2" font-family='"Liberation Sans", sans-serif' font-size="15" fill="#131722" text-anchor="middle" font-weight="normal">17</text>
<text x="190.7" y="805.2" font-family='"Liberation Sans", sans-serif' font-size="15" fill="#131722" text-anchor="middle" font-weight="normal">22</text>
<text x="276.6" y="805.2" font-family='"Liberation Sans", sans-serif' font-size="15" fill="#131722" text-anchor="middle" font-weight="normal">27</text>
<text x="419.8" y="805.2" font-family='"Liberation Sans", sans-serif' font-size="15" fill="#131722" text-anchor="middle" font-weight="normal">Nov</text>
<text x="505.7" y="805.2" font-family='"Liberation Sans", sans-serif' font-size="15" fill="#131722" text-anchor="middle" font-weight="normal">6</text>
<text x="591.6" y="805.2" font-family='"Liberation Sans", sans-serif' font-size="15" fill="#131722" text-anchor="middle" font-weight="normal">11</text>
<text x="677.5" y="805.2" font-family='"Liberation Sans", sans-serif' font-size="15" fill="#131722" text-anchor="middle" font-weight="normal">14</text>
<text x="763.4" y="805.2" font-family='"Liberation Sans", sans-serif' font-size="15" fill="#131722" text-anchor="middle" font-weight="normal">19</text>
<text x="849.4" y="805.2" font-family='"Liberation Sans", sans-serif' font-size="15" fill="#131722" text-anchor="middle" font-weight="normal">24</text>
<text x="963.9" y="805.2" font-family='"Liberation Sans", sans-serif' font-size="15" fill="#131722" text-anchor="middle" font-weight="normal">Dec</text>
<text x="1049.8" y="805.2" font-family='"Liberation Sans", sans-serif' font-size="15" fill="#131722" text-anchor="middle" font-weight="normal">4</text>
<text x="1135.7" y="805.2" font-family='"Liberation Sans", sans-serif' font-size="15" fill="#131722" text-anchor="middle" font-weight="normal">9</text>
<text x="1221.6" y="805.2" font-family='"Liberation Sans", sans-serif' font-size="15" fill="#131722" text-anchor="middle" font-weight="normal">12</text>
<text x="1307.6" y="805.2" font-family='"Liberation Sans", sans-serif' font-size="15" fill="#131722" text-anchor="middle" font-weight="normal">17</text>
<text x="1393.5" y="805.2" font-family='"Liberation Sans", sans-serif' font-size="15" fill="#131722" text-anchor="middle" font-weight="normal">22</text>
<text x="1479.4" y="805.2" font-family='"Liberation Sans", sans-serif' font-size="15" fill="#131722" text-anchor="middle" font-weight="normal">26</text>
<text x="1679.9" y="805.2" font-family='"Liberation Sans", sans-serif' font-size="15" fill="#131722" text-anchor="middle" font-weight="normal">7</text>
<text x="1593.5" y="805.2" font-family='"Liberation Sans", sans-serif' font-size="15" fill="#131722" text-anchor="middle" font-weight="bold" textLength="35" lengthAdjust="spacingAndGlyphs">2026</text>
<g fill="#131722"><path d="M12.3,840.2 H24.1 V854.9 H18 V845.8 H12.3 Z"/><circle cx="29.0" cy="843.2" r="2.8"/><path d="M33.6,840.2 H41.7 L36.2,854.9 H29.1 Z"/></g>
<text x="49.2" y="854.9" font-family='"Liberation Sans", sans-serif' font-size="21" fill="#131722" text-anchor="start" font-weight="bold" textLength="120.5" lengthAdjust="spacingAndGlyphs">TradingView</text>
</svg></body></html>
